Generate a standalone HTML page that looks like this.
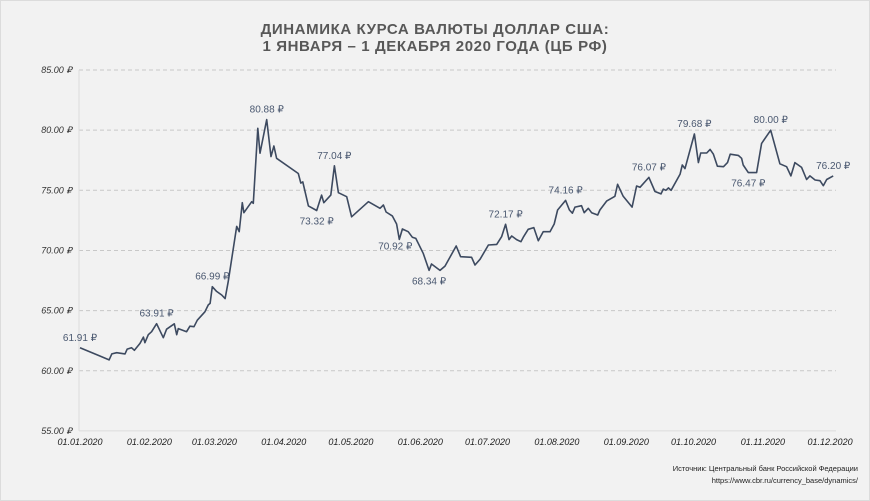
<!DOCTYPE html>
<html><head><meta charset="utf-8">
<style>
html,body{margin:0;padding:0;background:#f2f2f2;}
svg{display:block;font-family:"Liberation Sans",sans-serif;}
</style></head>
<body>
<svg id="chart" width="870" height="501" viewBox="0 0 870 501" xmlns="http://www.w3.org/2000/svg">
<rect x="0.5" y="0.5" width="869" height="500" fill="#f2f2f2" stroke="#dcdcdc"/>
<text x="435" y="34" text-anchor="middle" font-size="15" font-weight="bold" fill="#585858" letter-spacing="0.6">ДИНАМИКА КУРСА ВАЛЮТЫ ДОЛЛАР США:</text>
<text x="435" y="51" text-anchor="middle" font-size="15" font-weight="bold" fill="#585858" letter-spacing="0.6">1 ЯНВАРЯ – 1 ДЕКАБРЯ 2020 ГОДА (ЦБ РФ)</text>
<g id="grid"></g>
<g id="axes"></g>
<g id="series"></g>
<g id="labels"></g>
<text x="858" y="471" text-anchor="end" font-size="7.5" fill="#222">Источник: Центральный банк Российской Федерации</text>
<text x="858" y="483" text-anchor="end" font-size="7.5" fill="#222">https://www.cbr.ru/currency_base/dynamics/</text>
</svg>
<script>
const yTicks=[55,60,65,70,75,80,85];
const xTickDays=[0,31,60,91,121,152,182,213,244,274,305,335];
const xTickLabels=["01.01.2020","01.02.2020","01.03.2020","01.04.2020","01.05.2020","01.06.2020","01.07.2020","01.08.2020","01.09.2020","01.10.2020","01.11.2020","01.12.2020"];
const days=[0,8.9,13,14.2,16.4,20.1,21.1,23,24.3,26.8,28.3,29,30.5,32,34.2,37.2,38.7,42.1,43.2,43.9,47.6,49.1,50.9,52.4,55.8,57.3,58.1,59.1,61,63.3,64.8,66.2,70,71.1,72.5,73.2,76.7,77.4,79.4,80.4,83.4,85.3,86.6,87.8,97.5,98.6,99.5,102,105.7,107.9,108.9,112,113.6,115.4,119.1,121.3,128.8,134,135.5,136.7,139.5,141.4,142.6,144,146.6,148.4,150,153.3,155.9,157,160.8,163,168,170,174.9,176.4,178.7,182.4,186.1,188.3,190.1,191.6,192.8,195,196.9,198,200.2,202.7,204.7,206.9,209.9,211.8,213.3,216.9,218.6,219.9,221.1,224,225.2,227,228.5,231.2,232.2,235.2,238.9,240.1,242.6,246.6,248.6,250.1,254.1,256.8,259.5,260.5,261.7,262.8,264,268,269,270.2,274.4,276.2,277.2,279.9,281.4,282.9,284.7,287.4,289.2,290.4,294,295.5,296.2,298.5,302.2,304.4,308.5,312.6,315.6,317.5,319.3,322.3,324.5,326,328.3,330.5,332,333.5,336.4];
const rates=[61.91,61.23,60.9,61.4,61.5,61.4,61.8,61.92,61.7,62.27,62.8,62.33,63.0,63.25,63.91,62.75,63.45,63.9,63.0,63.5,63.25,63.7,63.66,64.2,64.9,65.47,65.6,66.99,66.6,66.3,66.0,67.4,72.0,71.56,73.97,73.14,74.05,73.92,80.15,78.08,80.88,77.8,78.68,77.66,76.4,75.6,75.7,73.7,73.32,74.6,73.97,74.6,77.04,74.8,74.47,72.8,74.05,73.5,73.78,73.2,72.87,72.2,70.92,71.78,71.56,71.1,71.0,69.76,68.34,68.87,68.34,68.7,70.37,69.48,69.43,68.79,69.27,70.45,70.5,71.14,72.17,70.9,71.2,70.9,70.73,71.1,71.76,71.9,70.8,71.56,71.56,72.2,73.36,74.16,73.36,73.1,73.6,73.72,73.14,73.5,73.14,72.95,73.36,74.1,74.5,75.5,74.5,73.6,75.36,75.25,76.07,74.9,74.7,75.1,75.0,75.2,75.0,76.35,77.1,76.8,79.68,77.3,78.1,78.1,78.4,78.0,77.0,76.96,77.3,78.0,77.9,77.66,77.1,76.47,76.47,78.9,80.0,77.2,76.96,76.2,77.3,76.9,75.9,76.2,75.86,75.8,75.38,75.9,76.2];
const annotDays=[0,34.2,59.1,83.4,113.6,105.7,142.6,155.9,190.1,216.9,254.1,274.4,308.5,298.5,336.4];
const annotValues=[61.91,63.91,66.99,80.88,77.04,73.32,70.92,68.34,72.17,74.16,76.07,79.68,80.00,76.47,76.20];
const annotBelow=[false,false,false,false,false,true,true,true,false,false,false,false,false,true,false];

const NS="http://www.w3.org/2000/svg";
const X=d=>80+d*2.239;
const Y=v=>70+(85-v)*12.03;
function mk(tag,attrs,parent){const e=document.createElementNS(NS,tag);for(const k in attrs)e.setAttribute(k,attrs[k]);parent.appendChild(e);return e;}
const grid=document.getElementById('grid'),axes=document.getElementById('axes'),ser=document.getElementById('series'),lab=document.getElementById('labels');
yTicks.forEach(v=>{
  if(v>55){const l=mk('line',{x1:79,x2:836,y1:Y(v),y2:Y(v),stroke:'#c8c8c8','stroke-dasharray':'4,3','stroke-width':1},grid);
  
  }
  const t=mk('text',{x:72,y:Y(v)+3,'text-anchor':'end','font-size':9,'font-style':'italic',fill:'#333'},axes);
  t.textContent=v.toFixed(2)+' ₽';
  
  
});
const ax=mk('line',{x1:79,x2:79,y1:Y(85),y2:Y(55),stroke:'#dcdcdc'},axes);


const bx=mk('line',{x1:79,x2:836,y1:Y(55),y2:Y(55),stroke:'#dcdcdc'},axes);


xTickDays.forEach((d,i)=>{
  const t=mk('text',{x:X(d),y:445,'text-anchor':'middle','font-size':9,'font-style':'italic',fill:'#222'},axes);
  t.textContent=xTickLabels[i];
  
  
});
const pts=days.map((d,i)=>X(d).toFixed(1)+','+Y(rates[i]).toFixed(1)).join(' ');
const pl=mk('polyline',{points:pts,fill:'none',stroke:'#3d4a60','stroke-width':1.6,'stroke-linejoin':'round'},ser);


annotDays.forEach((d,i)=>{
  const v=annotValues[i];
  const y=annotBelow[i]?Y(v)+14:Y(v)-7;
  let x=X(d);
  if(i===6){x-=4;}
  const t=mk('text',{x:x,y:(i===6?Y(v)+10:y),'text-anchor':'middle','font-size':10,fill:'#4a5870'},lab);
  t.textContent=v.toFixed(2)+' ₽';
  
  
});
</script>
</body></html>
